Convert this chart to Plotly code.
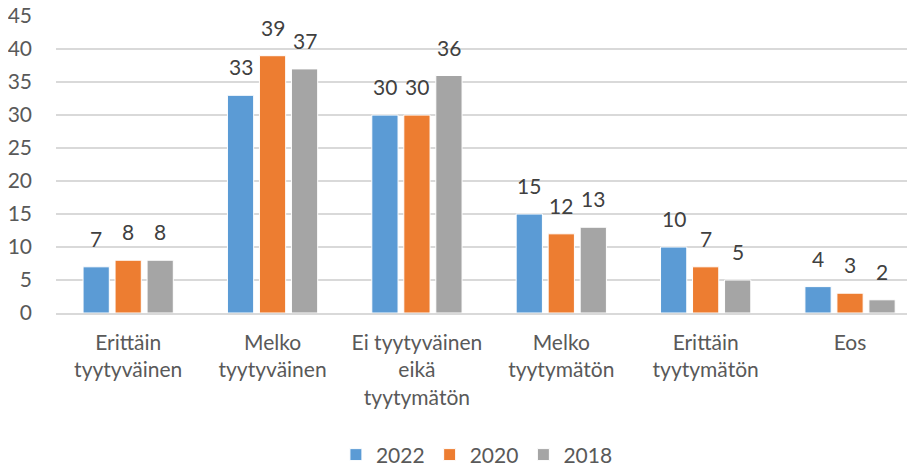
import plotly.graph_objects as go

categories = ["Erittäin<br>tyytyväinen", "Melko<br>tyytyväinen", "Ei tyytyväinen<br>eikä<br>tyytymätön",
              "Melko<br>tyytymätön", "Erittäin<br>tyytymätön", "Eos"]
series_names = ["2022", "2020", "2018"]
values_2022 = [7, 33, 30, 15, 10, 4]
values_2020 = [8, 39, 30, 12, 7, 3]
values_2018 = [8, 37, 36, 13, 5, 2]
colors = ["#5B9BD5", "#ED7D31", "#A5A5A5"]

FONT = "Lato, Open Sans, sans-serif"
TXT = "#595959"
FS = 21

# page body has an 8px margin, so the figure is drawn 8px smaller and offset
PAGE_OFF = 8
W, H = 915 - PAGE_OFF, 470 - PAGE_OFF
ML, MR, MT, MB = 56 - PAGE_OFF, 0, 16 - PAGE_OFF, 157
XRANGE = [-0.5, 5.45]
BARGAP = 0.335
BARGROUPGAP = 0.18

fig = go.Figure()
all_vals = [values_2022, values_2020, values_2018]
for name, vals, col in zip(series_names, all_vals, colors):
    fig.add_trace(go.Bar(
        x=categories, y=vals, name=name,
        marker=dict(color=col, line=dict(color="white", width=1)),
    ))

# data labels positioned over each bar
cat_px = (W - ML - MR) / (XRANGE[1] - XRANGE[0])
slot_px = cat_px * (1 - BARGAP) / len(series_names)
for i, vals in enumerate(all_vals):
    for c, v in zip(categories, vals):
        fig.add_annotation(
            x=c, y=v, text=str(v), showarrow=False,
            xanchor="center", yanchor="bottom",
            xshift=(i - (len(series_names) - 1) / 2) * slot_px, yshift=14,
            font=dict(size=FS, color="#404040", family=FONT),
        )

fig.update_layout(
    width=W, height=H,
    margin=dict(l=ML, r=MR, t=MT, b=MB, autoexpand=False),
    plot_bgcolor="white", paper_bgcolor="white",
    barmode="group", bargap=BARGAP, bargroupgap=BARGROUPGAP,
    font=dict(family=FONT, size=FS, color=TXT),
    legend=dict(orientation="h", x=0.49, xanchor="center", y=-0.478, yanchor="middle",
                font=dict(size=FS, color=TXT), itemwidth=30, traceorder="normal"),
    xaxis=dict(range=XRANGE, automargin=False, showline=True, linecolor="#D9D9D9", linewidth=1.5,
               ticks="", tickfont=dict(size=FS, color=TXT), ticklabelstandoff=10,
               ticklabeloverflow="allow"),
    yaxis=dict(range=[0, 45.02], automargin=False, tick0=0, dtick=5, showgrid=True, gridcolor="#D9D9D9",
               gridwidth=1.5, zeroline=False, ticks="", tickfont=dict(size=FS, color=TXT),
               ticklabelstandoff=23, ticklabeloverflow="allow"),
)

fig.write_html("out.html")
